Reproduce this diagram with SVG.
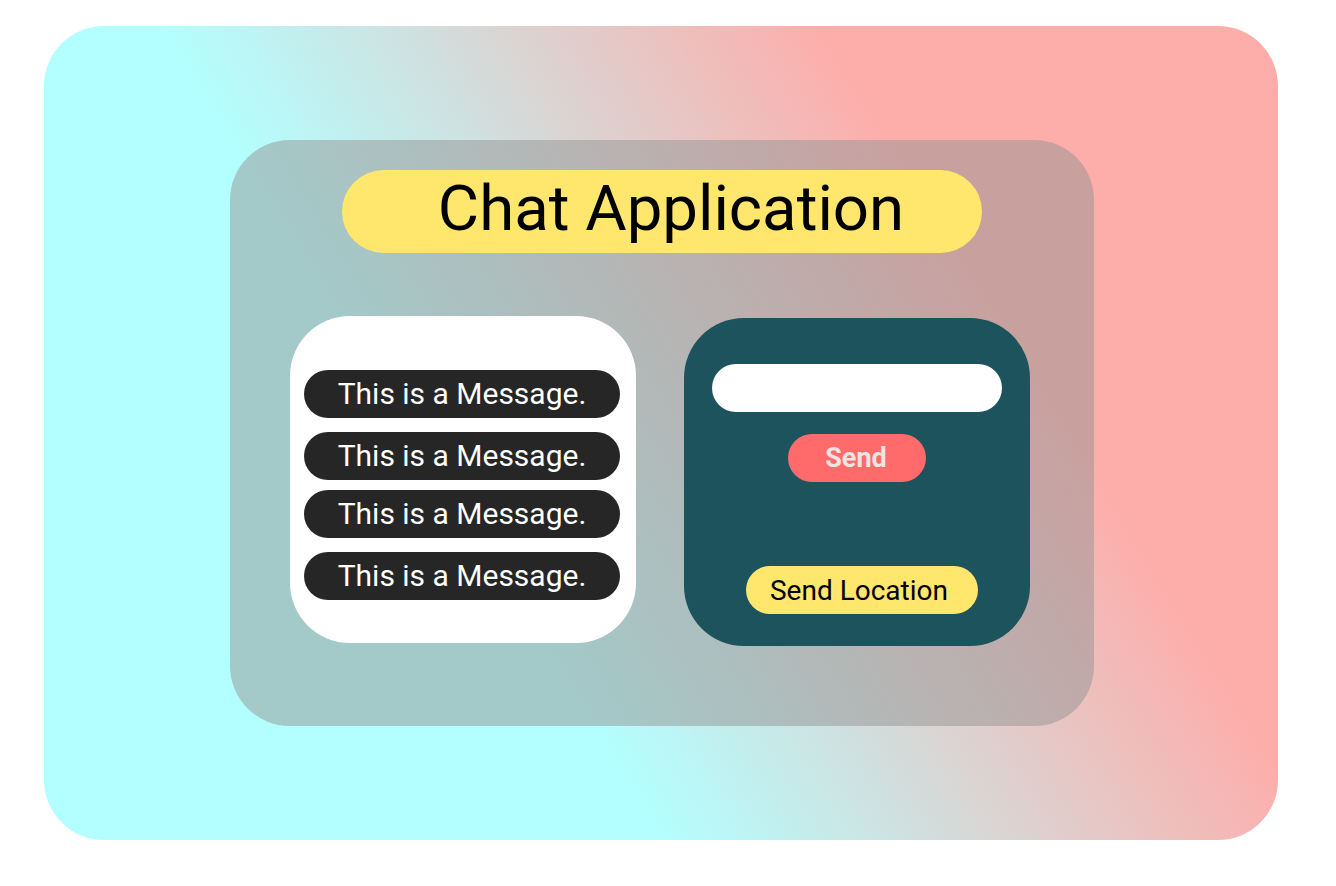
<svg xmlns="http://www.w3.org/2000/svg" width="1336" height="886" viewBox="0 0 1336 886">
  <defs>
    <linearGradient id="bg" gradientUnits="userSpaceOnUse" x1="33" y1="822" x2="1289" y2="44">
      <stop offset="0.355" stop-color="#b3ffff"/>
      <stop offset="0.735" stop-color="#fdaeab"/>
    </linearGradient>
  </defs>
  <style>
    .pill-msg { fill: #262626; }
    .msg { font-family: Roboto, "Liberation Sans", sans-serif; font-size: 30px; fill: #ffffff; text-anchor: middle; }
    .yellow { fill: #ffe66d; }
  </style>
  <rect width="1336" height="886" fill="#ffffff"/>
  <g id="background">
    <rect x="44" y="26" width="1234" height="814" rx="60" ry="60" fill="url(#bg)"/>
  </g>
  <g id="panel">
    <rect x="230" y="140" width="864" height="586" rx="60" ry="60" fill="#949494" fill-opacity="0.5"/>
  </g>
  <g id="title">
    <rect class="yellow" x="342" y="170" width="640" height="83" rx="41.5" ry="41.5"/>
    <text x="671" y="230" font-family="Roboto, 'Liberation Sans', sans-serif" font-size="63.5" fill="#000000" text-anchor="middle">Chat Application</text>
  </g>
  <g id="messages">
    <rect x="290" y="316" width="346" height="327" rx="60" ry="60" fill="#ffffff"/>
    <g id="msg1">
      <rect class="pill-msg" x="304" y="370" width="316" height="48" rx="24" ry="24"/>
      <text class="msg" x="462" y="403.7">This is a Message.</text>
    </g>
    <g id="msg2">
      <rect class="pill-msg" x="304" y="432" width="316" height="48" rx="24" ry="24"/>
      <text class="msg" x="462" y="465.7">This is a Message.</text>
    </g>
    <g id="msg3">
      <rect class="pill-msg" x="304" y="490" width="316" height="48" rx="24" ry="24"/>
      <text class="msg" x="462" y="523.7">This is a Message.</text>
    </g>
    <g id="msg4">
      <rect class="pill-msg" x="304" y="552" width="316" height="48" rx="24" ry="24"/>
      <text class="msg" x="462" y="585.7">This is a Message.</text>
    </g>
  </g>
  <g id="composer">
    <rect x="684" y="318" width="346" height="328" rx="60" ry="60" fill="#1c535c"/>
    <g id="input">
      <rect x="712" y="364" width="290" height="48" rx="24" ry="24" fill="#ffffff"/>
    </g>
    <g id="send">
      <rect x="788" y="434" width="138" height="48" rx="24" ry="24" fill="#ff6b6b"/>
      <text x="856" y="467" font-family="Roboto, 'Liberation Sans', sans-serif" font-size="27" font-weight="bold" fill="#efe4e4" text-anchor="middle">Send</text>
    </g>
    <g id="send-location">
      <rect class="yellow" x="746" y="566" width="232" height="48" rx="24" ry="24"/>
      <text x="859" y="600" font-family="Roboto, 'Liberation Sans', sans-serif" font-size="28" fill="#000000" text-anchor="middle">Send Location</text>
    </g>
  </g>
  <g id="connectors"/>
</svg>
